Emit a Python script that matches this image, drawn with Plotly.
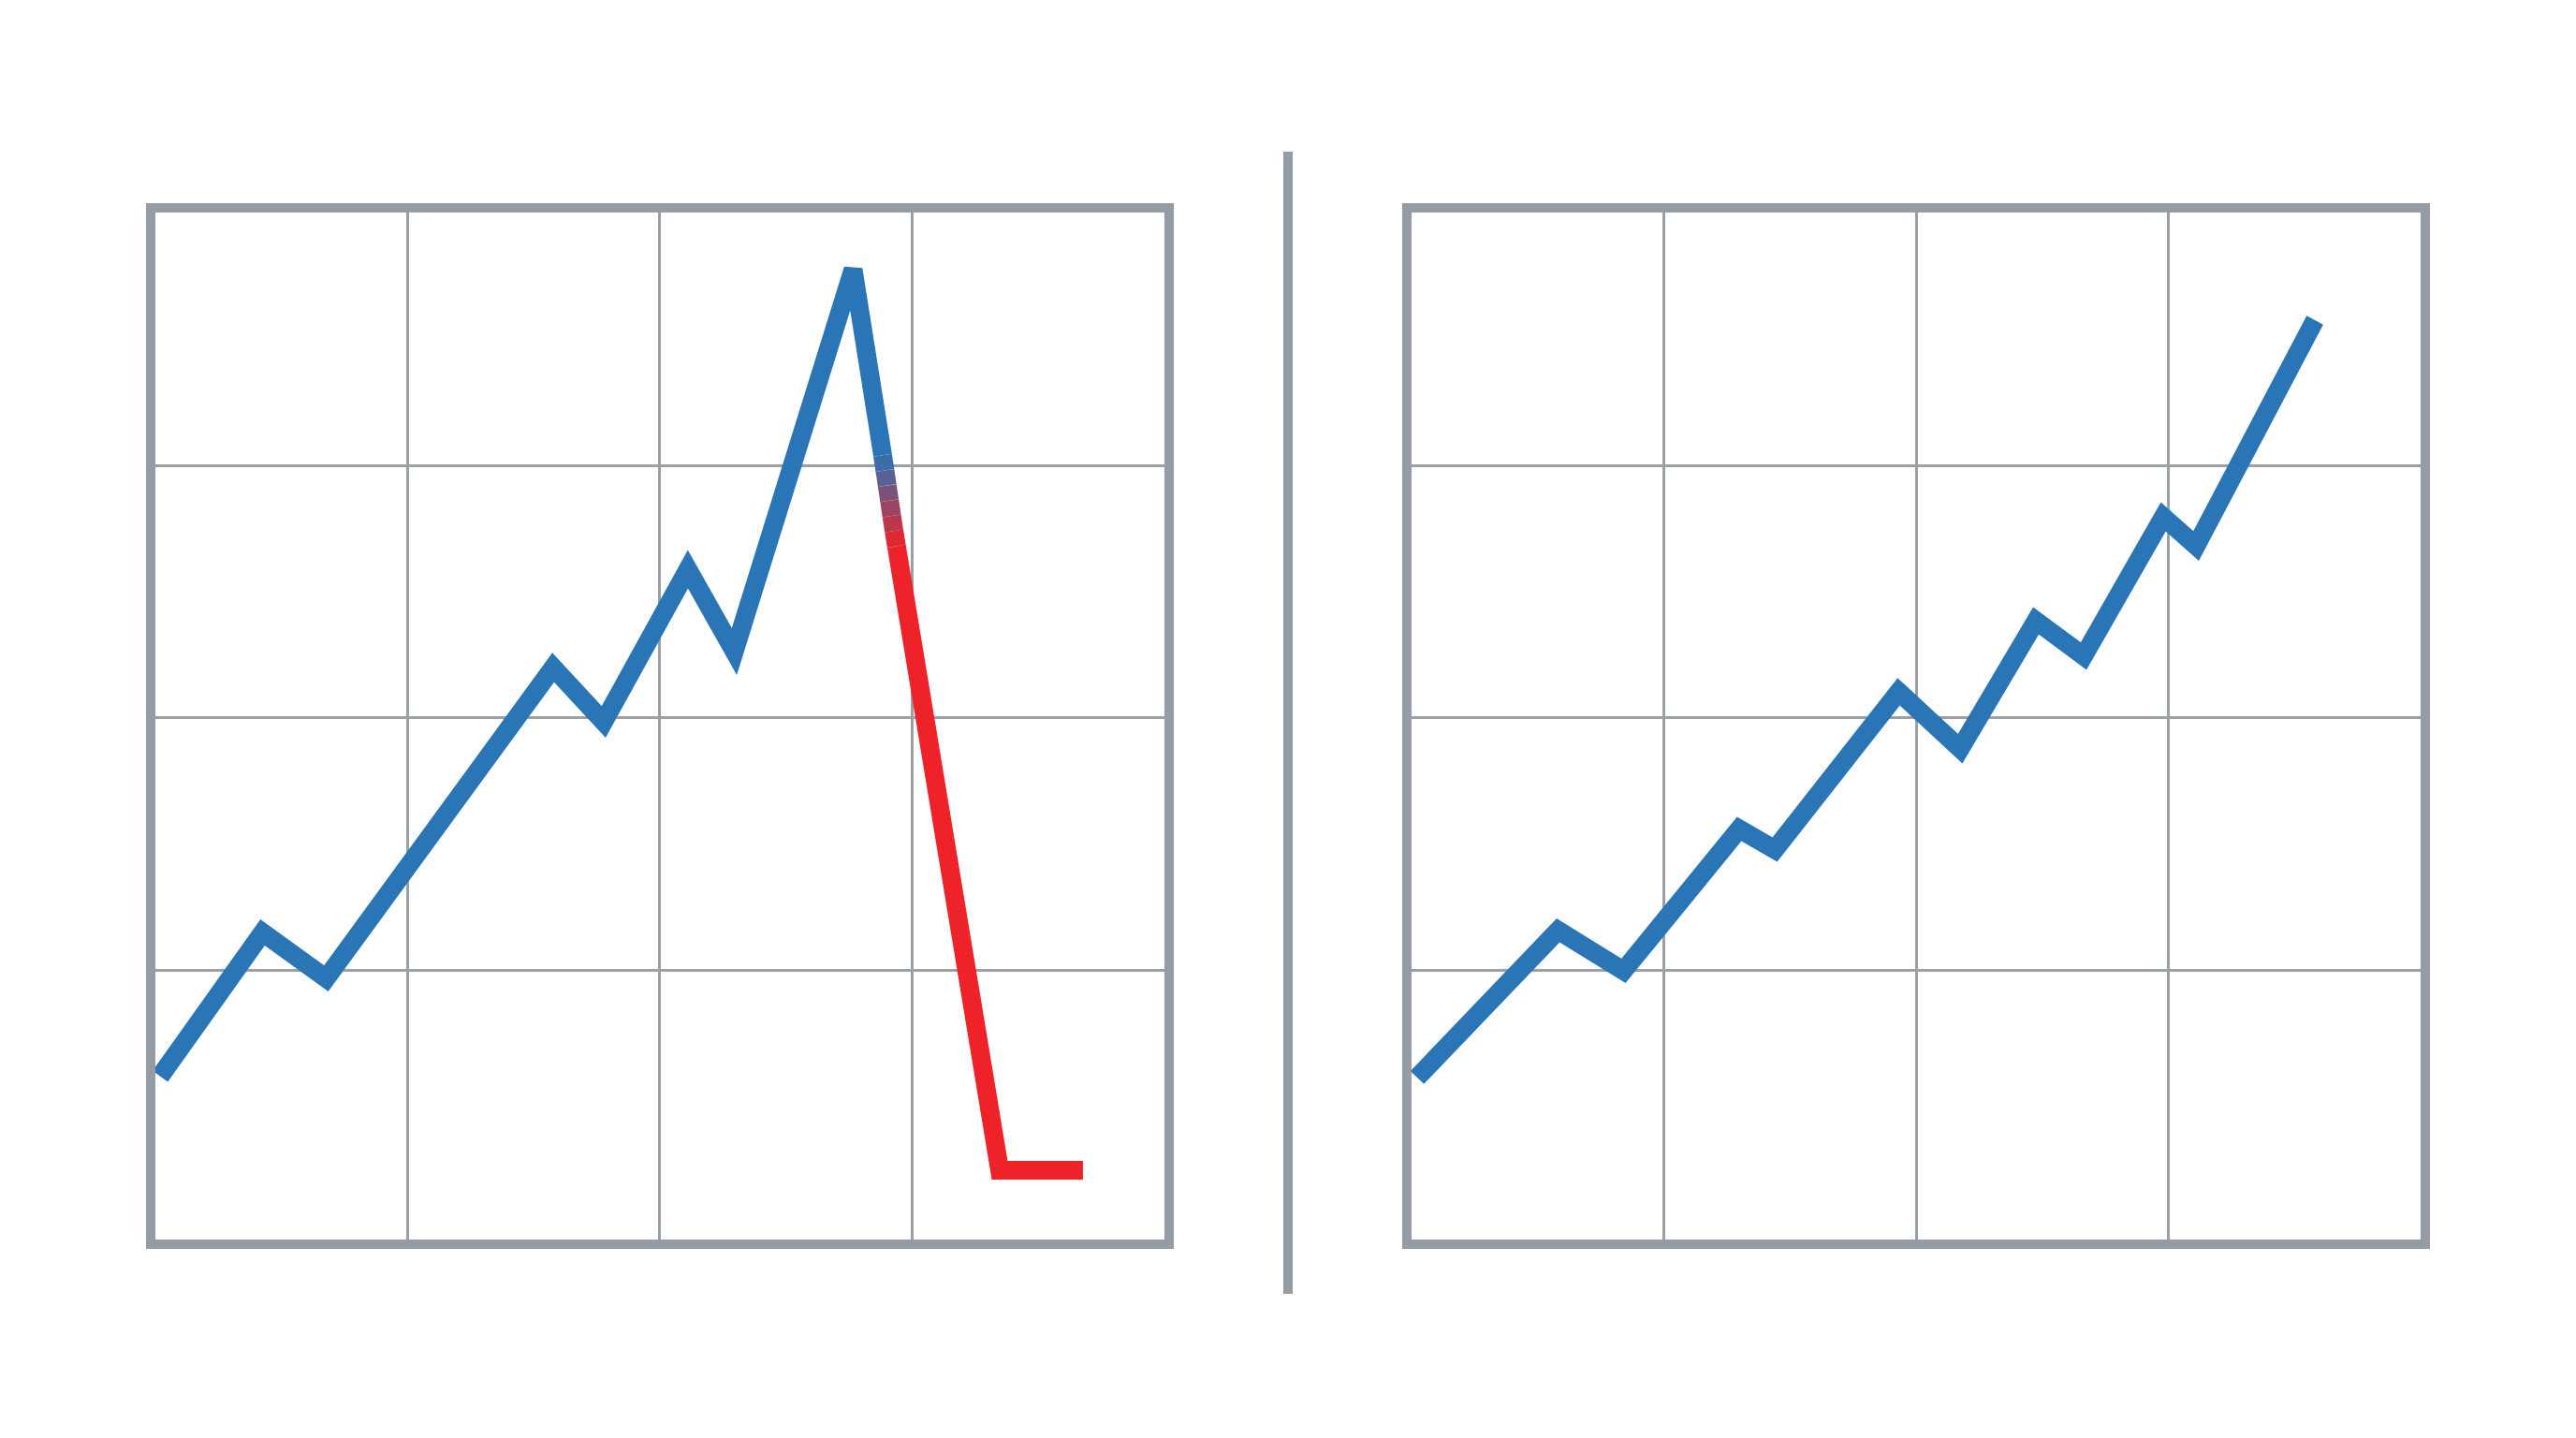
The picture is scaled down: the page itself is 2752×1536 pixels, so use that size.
import plotly.graph_objects as go
from plotly.subplots import make_subplots

# panneau gauche : montée puis chute
gauche_x = [0.019, 0.425, 0.677, 1.577, 1.777, 2.111, 2.295, 2.766, 2.883]
gauche_y = [0.583, 1.152, 0.970, 2.200, 1.985, 2.589, 2.263, 3.775, 3.04]

# zone où la ligne passe du bleu au rouge
transition_x = [2.883, 2.892, 2.901, 2.910, 2.919, 2.928, 2.938]
transition_y = [3.04, 2.98, 2.92, 2.86, 2.80, 2.74, 2.68]
transition_couleurs = ['#3a6ea9', '#5b6092', '#7c527b', '#9c4563', '#bd374c', '#de2935']

chute_x = [2.938, 3.347, 3.677]
chute_y = [2.68, 0.211, 0.211]

# panneau droit : montée régulière
droite_x = [0.022, 0.581, 0.840, 1.299, 1.440, 1.931, 2.175, 2.475, 2.664, 2.980, 3.110, 3.581]
droite_y = [0.578, 1.160, 1.000, 1.561, 1.480, 2.104, 1.879, 2.385, 2.245, 2.796, 2.681, 3.574]

bleu = '#2a75b5'
rouge = '#ee2229'
gris = '#959ca3'
epaisseur = 20

# la page ajoute une marge de 8 px autour du graphique
dx = 8 / 2752
dy = 8 / 1536

fig = make_subplots(rows=1, cols=2)

fig.add_trace(go.Scatter(x=gauche_x, y=gauche_y, mode='lines',
                         line=dict(color=bleu, width=epaisseur)), row=1, col=1)
for i, c in enumerate(transition_couleurs):
    fig.add_trace(go.Scatter(x=transition_x[i:i + 2], y=transition_y[i:i + 2], mode='lines',
                             line=dict(color=c, width=epaisseur)), row=1, col=1)
fig.add_trace(go.Scatter(x=chute_x, y=chute_y, mode='lines',
                         line=dict(color=rouge, width=epaisseur)), row=1, col=1)

fig.add_trace(go.Scatter(x=droite_x, y=droite_y, mode='lines',
                         line=dict(color=bleu, width=epaisseur)), row=1, col=2)

axe = dict(showline=True, mirror=True, linecolor=gris, linewidth=10,
           showgrid=True, gridcolor='#9ba0a5', gridwidth=3,
           zeroline=False, showticklabels=False, ticks='', fixedrange=True)

fig.update_xaxes(axe, range=[0, 4], tickvals=[1, 2, 3])
fig.update_yaxes(axe, range=[-0.063, 4], tickvals=[1, 2, 3])
fig.update_xaxes(domain=[0.06032 - dx, 0.45203 - dx], row=1, col=1)
fig.update_xaxes(domain=[0.54797 - dx, 0.93968 - dx], row=1, col=2)
fig.update_yaxes(domain=[0.13802 + dy, 0.85221 + dy])

# séparateur vertical
fig.add_shape(type='line', xref='paper', yref='paper', x0=0.5 - dx, x1=0.5 - dx,
              y0=0.1003 + dy, y1=0.8945 + dy,
              line=dict(color=gris, width=10))

fig.update_layout(
    width=2752, height=1536,
    margin=dict(l=0, r=0, t=0, b=0),
    showlegend=False,
    plot_bgcolor='white',
    paper_bgcolor='white',
)

# angles pointus aux sommets comme sur l'image
angles = ("document.querySelectorAll('.scatterlayer .js-line').forEach(function(p){"
          "p.style.strokeLinejoin='miter';p.style.strokeMiterlimit='4';});")

fig.write_html('out.html', post_script=angles)
